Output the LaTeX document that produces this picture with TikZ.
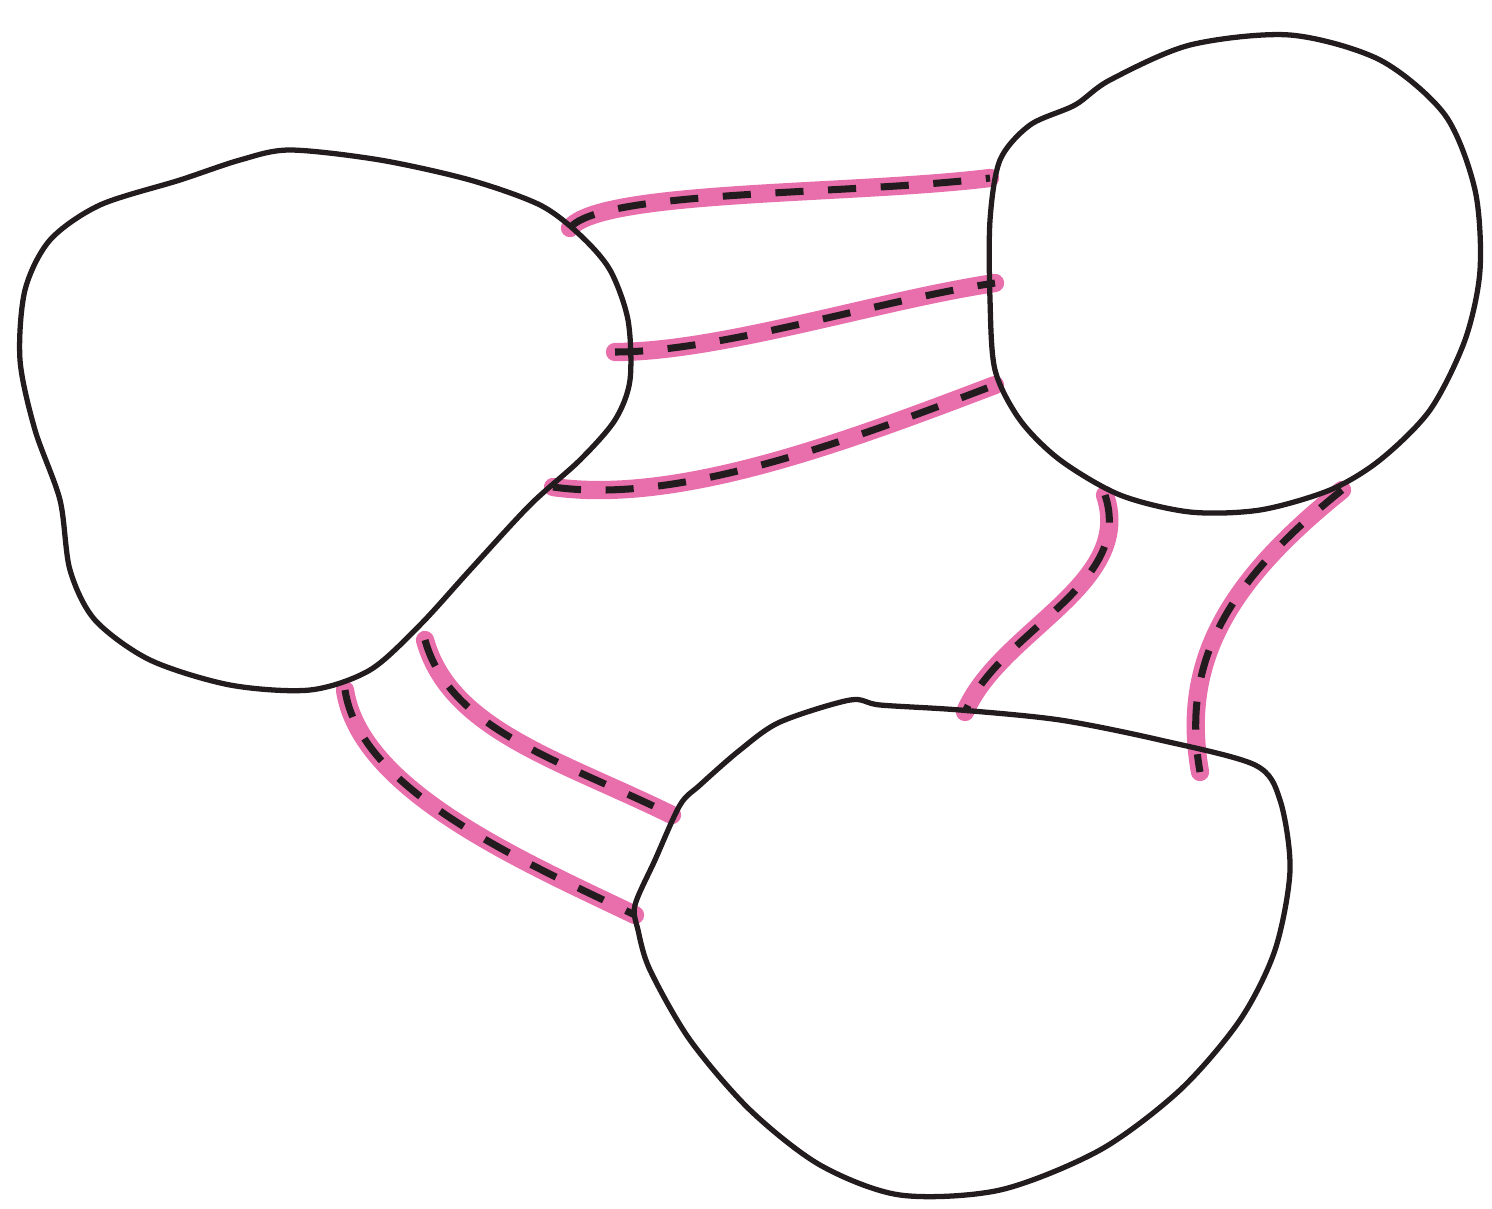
\documentclass[tikz,border=0pt]{standalone}
\usepackage{tikz}
\usetikzlibrary{arrows.meta}
\definecolor{pinkink}{RGB}{232,110,172}
\definecolor{penink}{RGB}{35,28,30}

\begin{document}
\begin{tikzpicture}[x=0.1mm,y=-0.1mm,
  blob/.style={draw=penink,line width=1.5pt,line join=round},
  band/.style={draw=pinkink,line width=5.2pt,line cap=round,
    postaction={draw=penink,line width=2pt,line cap=butt,dash pattern=on 8pt off 7pt}}]
\useasboundingbox (0,0) rectangle (1492,1208);
% ends of the bands
\coordinate (la1) at (570,228);  \coordinate (ra1) at (990,178);
\coordinate (la2) at (615,352);  \coordinate (ra2) at (995,283);
\coordinate (la3) at (553,487);  \coordinate (ra3) at (995,385);
\coordinate (rb1) at (1105,495); \coordinate (bt1) at (965,712);
\coordinate (rb2) at (1342,490); \coordinate (bt2) at (1200,772);
\coordinate (lb1) at (425,640);  \coordinate (bt3) at (672,815);
\coordinate (lb2) at (345,690);  \coordinate (bt4) at (635,915);
% bands
\draw[band] (la1) .. controls (600,190) and (850,195) .. (ra1);
\draw[band] (la2) .. controls (720,352) and (880,300) .. (ra2);
\draw[band] (la3) .. controls (680,505) and (850,440) .. (ra3);
\draw[band] (rb1) .. controls (1135,585) and (1000,630) .. (bt1);
\draw[band] (rb2) .. controls (1230,580) and (1180,660) .. (bt2);
\draw[band] (lb1) .. controls (450,730) and (560,760) .. (bt3);
\draw[band] (lb2) .. controls (360,790) and (520,860) .. (bt4);
% left blob
\draw[blob] plot[smooth cycle] coordinates {(290,150) (380,160) (470,180) (540,205)
  (580,235) (610,270) (628,320) (630,380) (615,420) (580,460) (530,505) (470,570)
  (420,625) (370,670) (310,690) (230,685) (150,660) (95,620) (70,570) (60,500)
  (35,430) (20,360) (25,290) (50,240) (100,205) (180,180) (240,160)};
% right blob
\draw[blob] plot[smooth cycle] coordinates {(1075,105) (1110,80) (1190,45) (1290,35)
  (1380,60) (1445,115) (1475,190) (1480,270) (1465,340) (1430,410) (1380,460)
  (1330,490) (1260,510) (1190,512) (1120,495) (1060,460) (1020,420) (995,370)
  (990,300) (990,220) (1000,160) (1030,125)};
% bottom blob
\draw[blob] plot[smooth cycle] coordinates {(780,722) (850,700) (880,705) (960,710)
  (1060,720) (1160,740) (1255,765) (1280,800) (1290,870) (1275,950) (1240,1020)
  (1180,1090) (1100,1150) (1000,1190) (900,1195) (820,1165) (750,1110) (690,1040)
  (650,970) (638,930) (635,905) (655,860) (680,805) (700,785) (740,750)};
\end{tikzpicture}
\end{document}
